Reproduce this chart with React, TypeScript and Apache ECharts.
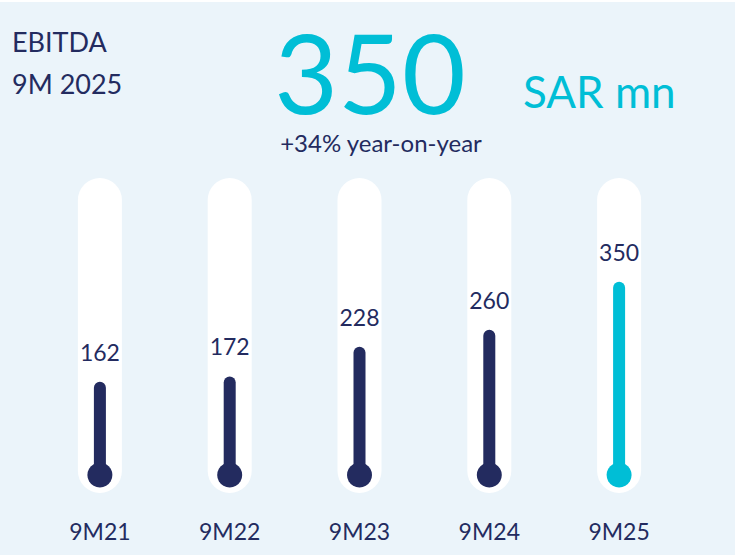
import React, { useEffect, useRef } from "react";
import * as echarts from "echarts";

const categories = ["9M21", "9M22", "9M23", "9M24", "9M25"];
const ebitdaValues = [162, 172, 228, 260, 350];
const headlineValue = "350";
const headlineUnit = "SAR mn";
const growthText = "+34% year-on-year";
const titleLines = ["EBITDA", "9M 2025"];
const axisMax = 545;

const NAVY = "#232B5F";
const CYAN = "#00BED6";
const BG = "#EBF4FA";
const FONT = "Lato, 'Open Sans', sans-serif";

export default function App() {
  const ref = useRef<HTMLDivElement>(null);
  useEffect(() => {
    document.body.style.margin = "0";
    const chart = echarts.init(ref.current!, null, { renderer: "svg" });
    const last = ebitdaValues.length - 1;
    chart.setOption({
      animation: false,
      backgroundColor: "#ffffff",
      grid: { left: 35, right: 51, top: 178, bottom: 87 },
      xAxis: {
        type: "category",
        data: categories,
        axisLine: { show: false },
        axisTick: { show: false },
        axisLabel: {
          margin: 51,
          color: NAVY,
          fontFamily: FONT,
          fontSize: 23,
        },
      },
      yAxis: {
        type: "value",
        min: 0,
        max: axisMax,
        show: false,
        splitLine: { show: false },
      },
      graphic: [
        {
          type: "rect",
          z: -10,
          silent: true,
          shape: { x: 0, y: 2, width: 735, height: 553 },
          style: { fill: BG },
        },
        {
          type: "text",
          x: 12,
          y: 41,
          style: {
            text: titleLines[0],
            fill: NAVY,
            font: `27px ${FONT}`,
            textVerticalAlign: "middle",
          },
        },
        {
          type: "text",
          x: 12,
          y: 83,
          style: {
            text: titleLines[1],
            fill: NAVY,
            font: `27px ${FONT}`,
            textVerticalAlign: "middle",
          },
        },
        {
          type: "text",
          x: 370,
          y: 71,
          style: {
            text: headlineValue,
            fill: CYAN,
            font: `110px ${FONT}`,
            lineHeight: 80,
            textAlign: "center",
            textVerticalAlign: "middle",
          },
        },
        {
          type: "text",
          x: 523,
          y: 91,
          style: {
            text: headlineUnit,
            fill: CYAN,
            font: `44px ${FONT}`,
            textVerticalAlign: "middle",
          },
        },
        {
          type: "text",
          x: 381,
          y: 142,
          style: {
            text: growthText,
            fill: NAVY,
            font: `24px ${FONT}`,
            lineHeight: 20,
            textAlign: "center",
            textVerticalAlign: "middle",
          },
        },
      ],
      series: [
        {
          type: "custom",
          clip: false,
          data: ebitdaValues.map((v, i) => [i, v]),
          renderItem: (params: any, api: any) => {
            const idx = api.value(0);
            const v = api.value(1);
            const base = api.coord([idx, 0]);
            const top = api.coord([idx, v]);
            const tubeTop = api.coord([idx, axisMax]);
            const color = params.dataIndex === last ? CYAN : NAVY;
            const cx = base[0];
            const bulbY = base[1] + 7;
            return {
              type: "group",
              children: [
                {
                  type: "rect",
                  shape: {
                    x: cx - 22,
                    y: tubeTop[1],
                    width: 44,
                    height: base[1] + 25 - tubeTop[1],
                    r: 22,
                  },
                  style: { fill: "#ffffff" },
                },
                {
                  type: "rect",
                  shape: {
                    x: cx - 6,
                    y: top[1],
                    width: 12,
                    height: bulbY - top[1],
                    r: [6, 6, 0, 0],
                  },
                  style: { fill: color },
                },
                {
                  type: "circle",
                  shape: { cx, cy: bulbY, r: 12.5 },
                  style: { fill: color },
                },
                {
                  type: "text",
                  x: cx,
                  y: top[1] - 30,
                  style: {
                    text: String(v),
                    fill: NAVY,
                    font: `23px ${FONT}`,
                    textAlign: "center",
                    textVerticalAlign: "middle",
                  },
                },
              ],
            };
          },
        },
      ],
    });
    return () => chart.dispose();
  }, []);
  return (
    <div
      ref={ref}
      style={{ position: "absolute", left: 0, top: 0, width: 735, height: 555 }}
    />
  );
}
